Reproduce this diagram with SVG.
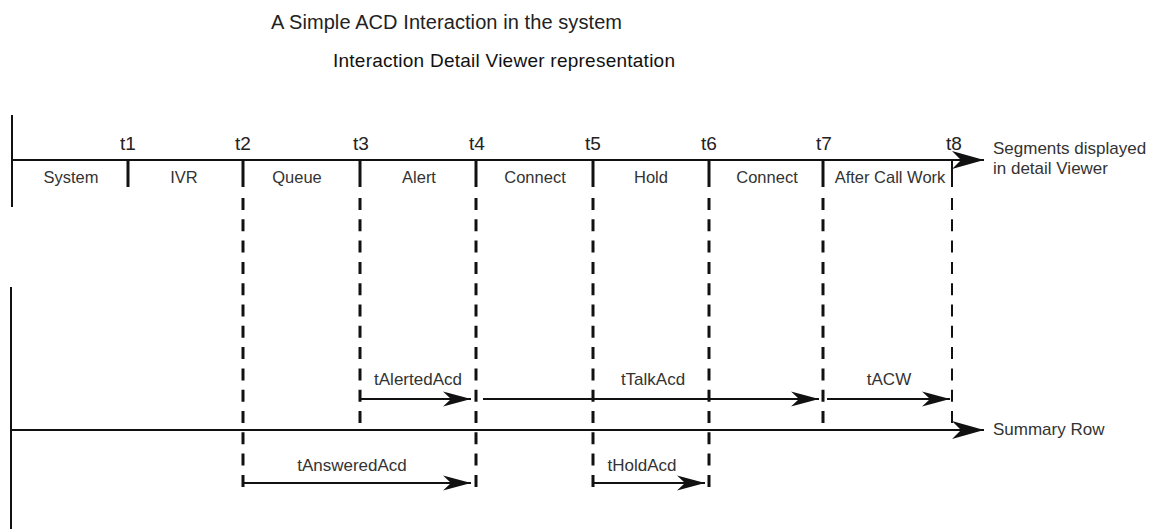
<svg xmlns="http://www.w3.org/2000/svg" width="1157" height="529" viewBox="0 0 1157 529">
<style>
  text { font-family: "Liberation Sans", Arial, sans-serif; fill: #333; }
  .title { font-size: 20px; fill: #222; }
  .sub { font-size: 19px; fill: #111; }
  .t { font-size: 19px; fill: #222; text-anchor: middle; }
  .seg { font-size: 16.5px; text-anchor: middle; }
  .lbl { font-size: 17px; text-anchor: middle; }
  .side { font-size: 17px; }
  .ln { stroke: #111; stroke-width: 2; fill: none; }
  .tick { stroke: #111; stroke-width: 3; fill: none; }
  .dash { stroke: #111; stroke-width: 3; fill: none; stroke-dasharray: 12 9.3; }
</style>
<defs>
  <marker id="ah" viewBox="-30 -10 32 20" refX="0" refY="0" markerWidth="32" markerHeight="20" markerUnits="userSpaceOnUse" orient="auto">
    <path d="M0,0 L-28,-7.5 L-20,0 L-28,7.5 Z" fill="#111"/>
  </marker>
  <marker id="ahb" viewBox="-34 -12 36 24" refX="0" refY="0" markerWidth="36" markerHeight="24" markerUnits="userSpaceOnUse" orient="auto">
    <path d="M0,0 L-32,-9 L-23,0 L-32,9 Z" fill="#111"/>
  </marker>
</defs>

<g id="title">
  <text class="title" x="271" y="29" textLength="351">A Simple ACD Interaction in the system</text>
  <text class="sub" x="333" y="67" textLength="342">Interaction Detail Viewer representation</text>
</g>

<g id="connectors">
  <!-- left bars -->
  <line class="ln" x1="12" y1="115" x2="12" y2="207"/>
  <line class="ln" x1="11" y1="287" x2="11" y2="529"/>
  <!-- main axis -->
  <line class="ln" x1="12" y1="160" x2="984" y2="160" marker-end="url(#ahb)"/>
  <!-- summary row -->
  <line class="ln" x1="11" y1="430" x2="984" y2="430" marker-end="url(#ahb)"/>
  <!-- solid ticks -->
  <line class="tick" x1="128" y1="160" x2="128" y2="187"/>
  <line class="tick" x1="243" y1="160" x2="243" y2="187"/>
  <line class="tick" x1="360" y1="160" x2="360" y2="187"/>
  <line class="tick" x1="476" y1="160" x2="476" y2="187"/>
  <line class="tick" x1="593" y1="160" x2="593" y2="187"/>
  <line class="tick" x1="709" y1="160" x2="709" y2="187"/>
  <line class="tick" x1="823" y1="160" x2="823" y2="187"/>
  <line class="tick" x1="952" y1="160" x2="952" y2="187" style="stroke-width:2"/>
  <!-- dashed -->
  <line class="dash" x1="243" y1="198" x2="243" y2="488"/>
  <line class="dash" x1="360" y1="198" x2="360" y2="423"/>
  <line class="dash" x1="476" y1="198" x2="476" y2="488"/>
  <line class="dash" x1="593" y1="198" x2="593" y2="488"/>
  <line class="dash" x1="709" y1="198" x2="709" y2="488"/>
  <line class="dash" x1="823" y1="198" x2="823" y2="423"/>
  <line class="dash" x1="952" y1="198" x2="952" y2="423" style="stroke-width:2"/>
  <!-- metric arrows -->
  <line class="ln" x1="360" y1="399" x2="471" y2="399" marker-end="url(#ah)"/>
  <line class="ln" x1="483" y1="399" x2="819" y2="399" marker-end="url(#ah)"/>
  <line class="ln" x1="827" y1="399" x2="950" y2="399" marker-end="url(#ah)"/>
  <line class="ln" x1="243" y1="483" x2="471" y2="483" marker-end="url(#ah)"/>
  <line class="ln" x1="593" y1="483" x2="705" y2="483" marker-end="url(#ah)"/>
</g>

<g id="time-labels">
  <text class="t" x="128" y="150">t1</text>
  <text class="t" x="243" y="150">t2</text>
  <text class="t" x="361" y="150">t3</text>
  <text class="t" x="477" y="150">t4</text>
  <text class="t" x="593" y="150">t5</text>
  <text class="t" x="709" y="150">t6</text>
  <text class="t" x="824" y="150">t7</text>
  <text class="t" x="954" y="150">t8</text>
</g>

<g id="segments">
  <text class="seg" x="71" y="183">System</text>
  <text class="seg" x="184" y="183">IVR</text>
  <text class="seg" x="297" y="183">Queue</text>
  <text class="seg" x="419" y="183">Alert</text>
  <text class="seg" x="535" y="183">Connect</text>
  <text class="seg" x="651" y="183">Hold</text>
  <text class="seg" x="767" y="183">Connect</text>
  <text class="seg" x="890" y="183">After Call Work</text>
</g>

<g id="segments-label">
  <text class="side" x="993" y="154">Segments displayed</text>
  <text class="side" x="993" y="174">in detail Viewer</text>
</g>

<g id="summary-label">
  <text class="side" x="993" y="435">Summary Row</text>
</g>

<g id="metrics">
  <text class="lbl" x="418" y="385">tAlertedAcd</text>
  <text class="lbl" x="653" y="385">tTalkAcd</text>
  <text class="lbl" x="889" y="385">tACW</text>
  <text class="lbl" x="352" y="471">tAnsweredAcd</text>
  <text class="lbl" x="642" y="471">tHoldAcd</text>
</g>
</svg>
